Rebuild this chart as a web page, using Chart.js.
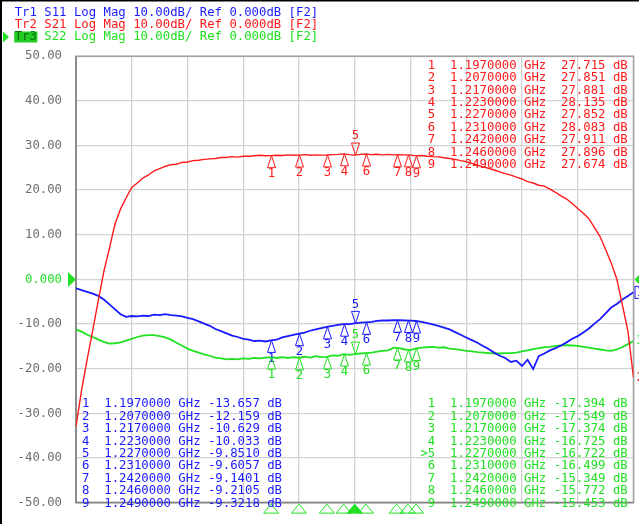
<!DOCTYPE html>
<html>
<head>
<meta charset="utf-8">
<script src="https://cdn.jsdelivr.net/npm/chart.js@4.4.1/dist/chart.umd.min.js"></script>
<style>
  html, body { margin: 0; padding: 0; background: #fff; overflow: hidden; }
  canvas { display: block; }
</style>
</head>
<body>
<canvas id="vna" width="639" height="524"></canvas>
<script>
// Sweep points (GHz), 1.127 .. 1.327 GHz
const freqGHz = [
  1.127,1.129,1.131,1.133,1.135,1.137,1.139,1.141,1.143,1.145,
  1.147,1.149,1.151,1.153,1.155,1.157,1.159,1.161,1.163,1.165,
  1.167,1.169,1.171,1.173,1.175,1.177,1.179,1.181,1.183,1.185,
  1.187,1.189,1.191,1.193,1.195,1.197,1.199,1.201,1.203,1.205,
  1.207,1.209,1.211,1.213,1.215,1.217,1.219,1.221,1.223,1.225,
  1.227,1.229,1.231,1.233,1.235,1.237,1.239,1.241,1.243,1.245,
  1.247,1.249,1.251,1.253,1.255,1.257,1.259,1.261,1.263,1.265,
  1.267,1.269,1.271,1.273,1.275,1.277,1.279,1.281,1.283,1.285,
  1.287,1.289,1.291,1.293,1.295,1.297,1.299,1.301,1.303,1.305,
  1.307,1.309,1.311,1.313,1.315,1.317,1.319,1.321,1.323,1.325,
  1.327
];

// Tr1 S11 (dB)
const s11 = [
  -2.0,-2.4,-2.8,-3.2,-3.7,-4.5,-5.6,-6.7,-7.8,-8.4,
  -8.2,-8.3,-8.1,-8.2,-7.9,-8.0,-7.8,-8.0,-8.1,-8.3,
  -8.6,-8.9,-9.4,-9.9,-10.4,-11.1,-11.6,-12.1,-12.6,-12.9,
  -13.3,-13.5,-13.8,-13.7,-13.9,-13.66,-13.5,-13.0,-12.7,-12.4,
  -12.16,-11.9,-11.5,-11.2,-10.9,-10.63,-10.4,-10.2,-10.03,-10.0,
  -9.85,-9.7,-9.61,-9.5,-9.3,-9.2,-9.2,-9.1,-9.15,-9.2,
  -9.25,-9.32,-9.5,-9.8,-10.1,-10.4,-10.8,-11.2,-11.8,-12.4,
  -13.0,-13.6,-14.2,-14.9,-15.6,-16.4,-17.1,-17.6,-18.5,-18.2,
  -19.4,-18.0,-20.1,-17.2,-16.6,-15.9,-15.4,-14.8,-14.1,-13.3,
  -12.7,-11.9,-11.0,-9.9,-8.9,-7.6,-6.3,-5.5,-4.5,-3.7,
  -2.9
];

// Tr2 S21 (dB)
const s21 = [
  -33.0,-24.8,-17.9,-11.4,-4.7,1.8,7.0,12.4,15.8,18.3,
  20.6,21.6,22.7,23.4,24.3,24.8,25.3,25.7,25.8,26.2,
  26.3,26.6,26.7,26.9,27.0,27.1,27.3,27.3,27.5,27.4,
  27.6,27.6,27.7,27.8,27.7,27.72,27.8,27.75,27.9,27.8,
  27.85,27.95,27.8,27.9,27.85,27.88,27.95,28.0,28.13,27.95,
  27.85,28.0,28.08,27.95,28.05,27.9,28.0,27.9,27.92,27.9,
  27.85,27.67,27.75,27.6,27.5,27.45,27.25,27.1,26.9,26.6,
  26.35,26.0,25.6,25.2,24.9,24.5,24.1,23.7,23.35,22.9,
  22.5,21.9,21.6,21.1,20.9,20.2,19.5,18.7,18.0,17.0,
  15.9,14.8,13.6,11.6,9.6,6.7,3.7,0.1,-5.7,-11.6,
  -22.0
];

// Tr3 S22 (dB)
const s22 = [
  -11.2,-11.7,-12.4,-12.9,-13.5,-14.0,-14.4,-14.3,-14.1,-13.7,
  -13.3,-12.9,-12.6,-12.5,-12.5,-12.7,-13.0,-13.5,-14.2,-14.8,
  -15.5,-16.0,-16.4,-16.8,-17.1,-17.5,-17.7,-17.9,-17.8,-17.9,
  -17.7,-17.8,-17.6,-17.7,-17.5,-17.39,-17.6,-17.4,-17.6,-17.4,
  -17.55,-17.3,-17.5,-17.2,-17.4,-17.37,-17.0,-17.1,-16.73,-16.9,
  -16.72,-16.6,-16.5,-16.4,-16.2,-16.0,-15.9,-15.3,-15.4,-15.7,
  -15.85,-15.45,-15.3,-15.2,-15.1,-15.3,-15.2,-15.5,-15.6,-15.8,
  -16.0,-16.1,-16.3,-16.4,-16.5,-16.6,-16.6,-16.5,-16.5,-16.4,
  -16.1,-15.9,-15.6,-15.4,-15.2,-15.1,-14.9,-14.8,-14.7,-14.8,
  -14.9,-15.1,-15.3,-15.5,-15.7,-15.9,-16.0,-15.7,-15.2,-14.5,
  -13.8
];

// Markers 1..9 (marker 5 is the active one)
const markerFreqGHz = [1.197, 1.207, 1.217, 1.223, 1.227, 1.231, 1.242, 1.246, 1.249];
const markerS11 = [-13.657, -12.159, -10.629, -10.033, -9.8510, -9.6057, -9.1401, -9.2105, -9.3218];
const markerS21 = [27.715, 27.851, 27.881, 28.135, 27.852, 28.083, 27.911, 27.896, 27.674];
const markerS22 = [-17.394, -17.549, -17.374, -16.725, -16.722, -16.499, -15.349, -15.772, -15.453];
const activeMarker = 4;

// Division lines: 10 divisions over the span
const xGridGHz = [1.127, 1.147, 1.167, 1.187, 1.207, 1.227, 1.247, 1.267, 1.287, 1.307, 1.327];

const traceHeaders = [
  'Tr1 S11 Log Mag 10.00dB/ Ref 0.000dB [F2]',
  'Tr2 S21 Log Mag 10.00dB/ Ref 0.000dB [F2]',
  'Tr3 S22 Log Mag 10.00dB/ Ref 0.000dB [F2]'
];

const COL = { s11: '#1a1aff', s21: '#ff1a1a', s22: '#22e022', grid: '#d2d2d2', tick: '#6e6e6e' };
const MONO = '"DejaVu Sans Mono", monospace';
const FS = 12.3;

function pts(ys) { return freqGHz.map((f, i) => ({ x: f, y: ys[i] })); }

function triangle(ctx, x, yTip, w, h, down, fill) {
  ctx.beginPath();
  const yb = down ? yTip - h : yTip + h;
  ctx.moveTo(x, yTip);
  ctx.lineTo(x - w / 2, yb);
  ctx.lineTo(x + w / 2, yb);
  ctx.closePath();
  if (fill) ctx.fill();
  ctx.stroke();
}

const vnaOverlay = {
  id: 'vnaOverlay',
  beforeDatasetsDraw(chart) {
    const ctx = chart.ctx, a = chart.chartArea;
    ctx.save();
    ctx.strokeStyle = '#a0a0a0';
    ctx.lineWidth = 1.5;
    ctx.strokeRect(a.left, a.top, a.right - a.left, a.bottom - a.top);
    ctx.strokeStyle = '#808080';
    ctx.beginPath();
    ctx.moveTo(a.left, a.top); ctx.lineTo(a.left, a.bottom); ctx.lineTo(a.right, a.bottom);
    ctx.stroke();
    ctx.restore();
  },
  afterDraw(chart) {
    const ctx = chart.ctx, a = chart.chartArea;
    const xs = chart.scales.x, ys = chart.scales.y;
    ctx.save();

    // window edges
    ctx.fillStyle = '#000';
    ctx.fillRect(0, 0, 2, chart.height);
    ctx.fillRect(0, 0, chart.width, 1.5);

    ctx.font = FS + 'px ' + MONO;
    const cw = ctx.measureText('0').width;
    ctx.textBaseline = 'middle';
    ctx.textAlign = 'left';

    // trace headers
    const hx = 14.7;
    const hy = [13, 25, 37];
    const hc = [COL.s11, COL.s21, COL.s22];
    traceHeaders.forEach((h, k) => {
      if (k === 2) {
        ctx.fillStyle = '#22cc22';
        ctx.fillRect(hx - 0.5, hy[k] - 5.5, cw * 3 + 1, 11);
        ctx.fillStyle = '#0b6e0b';
        ctx.fillText(h.slice(0, 3), hx, hy[k]);
        ctx.fillStyle = hc[k];
        ctx.fillText(h.slice(3), hx + cw * 3, hy[k]);
        ctx.beginPath();
        ctx.moveTo(3, hy[k] - 5.5); ctx.lineTo(9, hy[k]); ctx.lineTo(3, hy[k] + 5.5);
        ctx.closePath(); ctx.fill();
      } else {
        ctx.fillStyle = hc[k];
        ctx.fillText(h, hx, hy[k]);
      }
    });

    // reference level indicators
    const y0 = ys.getPixelForValue(0);
    ctx.fillStyle = COL.s22;
    ctx.beginPath();
    ctx.moveTo(68, y0 - 7.5); ctx.lineTo(76, y0); ctx.lineTo(68, y0 + 7.5);
    ctx.closePath(); ctx.fill();
    ctx.beginPath();
    ctx.moveTo(a.right + 6, y0 - 5); ctx.lineTo(a.right + 1, y0); ctx.lineTo(a.right + 6, y0 + 5);
    ctx.closePath(); ctx.fill();

    // trace end labels at the right edge
    const endLabels = [[s11, COL.s11, '1', true], [s22, COL.s22, '3', false], [s21, COL.s21, '2', false]];
    endLabels.forEach(([arr, c, t, boxed]) => {
      const y = ys.getPixelForValue(arr[arr.length - 1]);
      ctx.fillStyle = c; ctx.strokeStyle = c; ctx.lineWidth = 1;
      if (boxed) ctx.strokeRect(a.right + 1.5, y - 6, cw + 3, 12);
      ctx.fillText(t, a.right + 3, y);
    });

    // markers on the traces
    const traces = [[markerS21, COL.s21], [markerS11, COL.s11], [markerS22, COL.s22]];
    ctx.textAlign = 'center';
    ctx.lineWidth = 1;
    traces.forEach(([vals, c]) => {
      ctx.strokeStyle = c; ctx.fillStyle = c;
      vals.forEach((v, j) => {
        const x = Math.round(xs.getPixelForValue(markerFreqGHz[j])) + 0.5;
        const y = ys.getPixelForValue(v);
        if (j === activeMarker) {
          triangle(ctx, x, y, 8, 12, true, false);
          ctx.fillText(String(j + 1), x, y - 19);
        } else {
          triangle(ctx, x, y, 8, 12, false, false);
          ctx.fillText(String(j + 1), x, y + 18);
        }
      });
    });

    // stimulus markers under the grid
    ctx.strokeStyle = COL.s22; ctx.fillStyle = COL.s22;
    markerFreqGHz.forEach((f, j) => {
      const x = xs.getPixelForValue(f);
      triangle(ctx, x, a.bottom + 1.5, 15, 9, false, j === activeMarker);
    });

    // marker readout tables
    ctx.textAlign = 'left';
    const tables = [
      [markerS21, COL.s21, 427.8, 65.7, false],
      [markerS11, COL.s11, 82.1, 404.3, false],
      [markerS22, COL.s22, 427.8, 404.3, true]
    ];
    tables.forEach(([vals, c, x0, yTop, showActive]) => {
      ctx.fillStyle = c;
      vals.forEach((v, j) => {
        const row = (j + 1) + '  ' + markerFreqGHz[j].toFixed(7) + ' GHz ' +
          v.toPrecision(5).padStart(7) + ' dB';
        const y = yTop + j * 12.4;
        ctx.fillText(row, x0, y);
        if (showActive && j === activeMarker) ctx.fillText('>', x0 - cw, y);
      });
    });

    ctx.restore();
  }
};

new Chart(document.getElementById('vna'), {
  type: 'line',
  data: {
    datasets: [
      { label: 'S11', data: pts(s11), borderColor: COL.s11, borderWidth: 1.8, order: 1 },
      { label: 'S21', data: pts(s21), borderColor: COL.s21, borderWidth: 1.4, order: 0 },
      { label: 'S22', data: pts(s22), borderColor: COL.s22, borderWidth: 1.8, order: 2 }
    ]
  },
  options: {
    responsive: false,
    animation: false,
    events: [],
    layout: { padding: { left: 0, top: 56.2, right: 5.5, bottom: 12.5 } },
    elements: {
      point: { radius: 0 },
      line: { tension: 0 }
    },
    plugins: { legend: { display: false }, tooltip: { enabled: false } },
    scales: {
      x: {
        type: 'linear',
        min: 1.127,
        max: 1.327,
        afterBuildTicks: (scale) => { scale.ticks = xGridGHz.map(v => ({ value: v })); },
        afterFit: (scale) => { scale.height = 0; },
        ticks: { display: false },
        grid: { color: COL.grid, lineWidth: 1.3, drawTicks: false },
        border: { display: false }
      },
      y: {
        min: -50,
        max: 50,
        afterFit: (scale) => { scale.width = 76; },
        ticks: {
          stepSize: 10,
          padding: 14,
          font: { family: MONO, size: FS },
          color: (ctx) => (ctx.tick && ctx.tick.value === 0 ? COL.s22 : COL.tick),
          callback: (v) => (v === 0 ? '0.000' : v.toFixed(2))
        },
        grid: { color: COL.grid, lineWidth: 1.3, drawTicks: false },
        border: { display: false }
      }
    }
  },
  plugins: [vnaOverlay]
});
</script>
</body>
</html>
